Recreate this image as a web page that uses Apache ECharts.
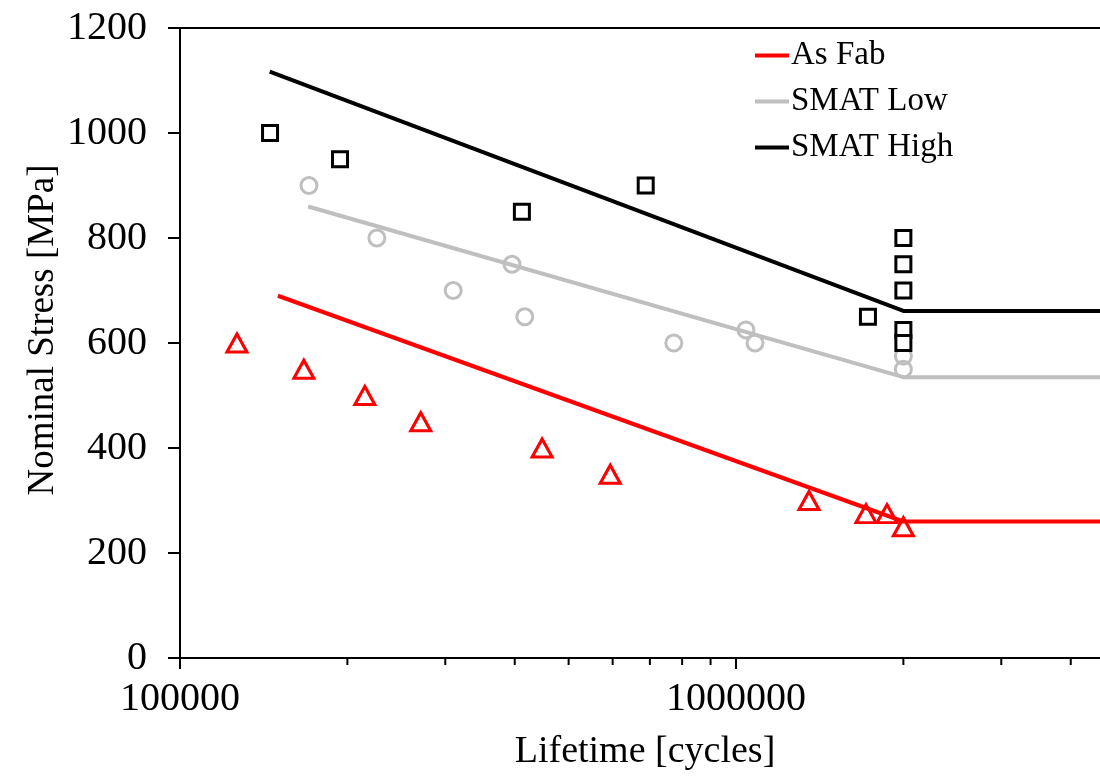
<!DOCTYPE html>
<html>
<head>
<meta charset="utf-8">
<script src="https://cdn.jsdelivr.net/npm/echarts@6/dist/echarts.min.js"></script>
<style>html,body{margin:0;padding:0;background:#fff}#c{width:1100px;height:777px}</style>
</head>
<body>
<div id="c"></div>
<script>
// ---- data ----
const seriesNames = ['As Fab', 'SMAT Low', 'SMAT High'];
const seriesColors = ['#ff0000', '#bfbfbf', '#000000'];

// fitted S-N lines
const asFabLineLife = [150000, 2000000, 10000000];
const asFabLineStress = [690, 260, 260];
const smatLowLineLife = [170000, 2000000, 10000000];
const smatLowLineStress = [860, 535, 535];
const smatHighLineLife = [145000, 2000000, 10000000];
const smatHighLineStress = [1117, 661, 661];

// experimental points
const asFabLife = [126600, 167000, 215000, 271000, 448000, 594000, 1353000, 1713000, 1869000, 2000000];
const asFabStress = [600, 550, 500, 450, 400, 350, 300, 275, 275, 250];
const smatLowLife = [170600, 226000, 310000, 395500, 417000, 773000, 1042000, 1082000, 2000000, 2000000];
const smatLowStress = [900, 800, 700, 750, 650, 600, 625, 600, 575, 550];
const smatHighLife = [145200, 194000, 412000, 688000, 1727000, 2000000, 2000000, 2000000, 2000000, 2000000];
const smatHighStress = [1000, 950, 850, 900, 650, 800, 750, 700, 625, 600];

const yTicks = [0, 200, 400, 600, 800, 1000, 1200];
const xMinorTicks = [200000, 300000, 400000, 500000, 600000, 700000, 800000, 900000,
                     2000000, 3000000, 4000000, 5000000, 6000000, 7000000, 8000000, 9000000];

const xTitle = 'Lifetime [cycles]';
const yTitle = 'Nominal Stress [MPa]';

// ---- build ----
const zip = (a, b) => a.map((v, i) => [v, b[i]]);
const FONT = 'Liberation Serif';

const chart = echarts.init(document.getElementById('c'), null, {renderer: 'canvas'});
const lineSeries = (name, color, xs, ys) => ({
  name, type: 'line', data: zip(xs, ys), symbol: 'none', showSymbol: false,
  lineStyle: {color, width: 4}, itemStyle: {color}, z: 3, animation: false
});
const scatterSeries = (color, xs, ys, symbol, size, fill) => ({
  type: 'scatter', data: zip(xs, ys), symbol, symbolSize: size,
  itemStyle: {color: fill, borderColor: color, borderWidth: 3, opacity: 1}, z: 4, animation: false
});

chart.setOption({
  animation: false,
  backgroundColor: '#fff',
  grid: {left: 180, top: 28, bottom: 119, right: -192, containLabel: false, outerBoundsMode: 'none',
         show: true, borderColor: '#000', borderWidth: 2, backgroundColor: 'transparent'},
  legend: {
    data: seriesNames.map(n => ({name: n, icon: 'rect'})), orient: 'vertical', left: 750, top: 34, itemGap: 13,
    itemWidth: 34, itemHeight: 4,
    textStyle: {fontFamily: FONT, fontSize: 33, color: '#000', padding: [0, 0, 0, -3]}
  },
  xAxis: {
    type: 'log', logBase: 10, min: 100000, max: 10000000,
    axisLine: {lineStyle: {color: '#000', width: 2}},
    axisTick: {length: 11, lineStyle: {color: '#000', width: 2}},
    splitLine: {show: false},
    axisLabel: {fontFamily: FONT, fontSize: 40, color: '#000', margin: 21, formatter: v => String(v)}
  },
  yAxis: {
    type: 'value', min: yTicks[0], max: yTicks[yTicks.length - 1], interval: yTicks[1] - yTicks[0],
    axisLine: {show: true, lineStyle: {color: '#000', width: 2}},
    axisTick: {show: true, length: 12, lineStyle: {color: '#000', width: 2}},
    splitLine: {show: false},
    axisLabel: {fontFamily: FONT, fontSize: 40, color: '#000', margin: 33, formatter: v => String(v)}
  },
  graphic: [
    {type: 'text', style: {text: xTitle, font: '38px ' + FONT, fill: '#000', textAlign: 'center', textVerticalAlign: 'middle'}, x: 645, y: 752},
    {type: 'text', style: {text: yTitle, font: '37px ' + FONT, fill: '#000', textAlign: 'center', textVerticalAlign: 'middle'}, x: 43, y: 330, rotation: Math.PI / 2}
  ],
  series: [
    {
      type: 'custom', data: xMinorTicks.map(v => [v, 0]), clip: false, silent: true, z: 10,
      renderItem: (params, api) => {
        const p = api.coord([api.value(0), api.value(1)]);
        return {type: 'line', shape: {x1: p[0], y1: p[1], x2: p[0], y2: p[1] + 7}, style: {stroke: '#000', lineWidth: 2}};
      }
    },
    lineSeries(seriesNames[0], seriesColors[0], asFabLineLife, asFabLineStress),
    lineSeries(seriesNames[1], seriesColors[1], smatLowLineLife, smatLowLineStress),
    lineSeries(seriesNames[2], seriesColors[2], smatHighLineLife, smatHighLineStress),
    scatterSeries(seriesColors[0], asFabLife, asFabStress, 'triangle', [20, 18], 'rgba(255,255,255,0)'),
    scatterSeries(seriesColors[1], smatLowLife, smatLowStress, 'circle', 16, 'rgba(255,255,255,0)'),
    scatterSeries(seriesColors[2], smatHighLife, smatHighStress, 'rect', 15, '#fff')
  ]
});
</script>
</body>
</html>
